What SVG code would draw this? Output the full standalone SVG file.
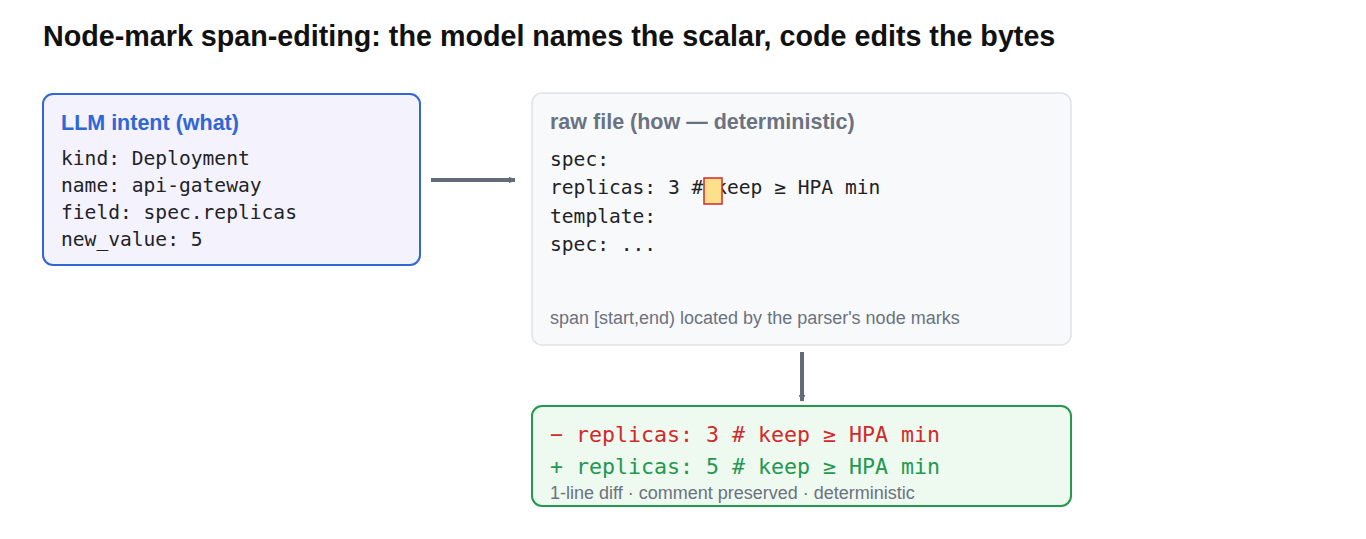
<svg xmlns="http://www.w3.org/2000/svg" width="1366" height="539" viewBox="0 0 1366 539">
<style>
.t{font-family:"Liberation Sans",Arial,sans-serif}
.m{font-family:"DejaVu Sans Mono",monospace;font-size:19.6px;fill:#1f2328}
.h{font-weight:bold;font-size:21.5px}
.s{font-size:18px;fill:#6b7280}
</style>
<defs>
<marker id="a" viewBox="0 0 10 10" refX="9" refY="5" markerWidth="7" markerHeight="7" markerUnits="userSpaceOnUse" orient="auto"><path d="M0,0L10,5L0,10z" fill="#646b78"/></marker>
</defs>
<rect width="1366" height="539" fill="#fff"/>
<text class="t" x="43" y="46" font-size="28.7" font-weight="bold" fill="#111">Node-mark span-editing: the model names the scalar, code edits the bytes</text>
<g id="intent">
<rect x="43" y="94" width="377" height="171" rx="10" fill="#f3f2fd" stroke="#2f66d8" stroke-width="2"/>
<text class="t h" x="61" y="130" fill="#2f66d8">LLM intent (what)</text>
<text class="m" x="61" y="165">kind: Deployment</text>
<text class="m" x="61" y="192">name: api-gateway</text>
<text class="m" x="61" y="219">field: spec.replicas</text>
<text class="m" x="61" y="246">new_value: 5</text>
</g>
<g id="raw">
<rect x="532" y="93" width="539" height="252" rx="10" fill="#f8f9fb" stroke="#dfe2e6" stroke-width="1.5"/>
<text class="t h" x="550" y="129" fill="#6b7280">raw file (how — deterministic)</text>
<text class="m" x="550" y="166">spec:</text>
<text class="m" x="550" y="194">replicas: 3 # keep ≥ HPA min</text>
<rect x="704" y="178" width="18" height="26" fill="#fde18a" stroke="#d12a2a" stroke-width="1.5"/>
<text class="m" x="550" y="223">template:</text>
<text class="m" x="550" y="251">spec: ...</text>
<text class="t s" x="550" y="324">span [start,end) located by the parser's node marks</text>
</g>
<g id="diff">
<rect x="532" y="406" width="539" height="100" rx="10" fill="#eef9f0" stroke="#23984f" stroke-width="2"/>
<text class="m" x="550" y="442" style="fill:#d12a2a;font-size:21.6px">− replicas: 3 # keep ≥ HPA min</text>
<text class="m" x="550" y="474" style="fill:#23984f;font-size:21.6px">+ replicas: 5 # keep ≥ HPA min</text>
<text class="t s" x="550" y="499">1-line diff · comment preserved · deterministic</text>
</g>
<g id="connectors" stroke="#646b78" stroke-width="4" fill="none">
<line x1="431" y1="180" x2="515" y2="180" marker-end="url(#a)"/>
<line x1="802" y1="352" x2="802" y2="401" marker-end="url(#a)"/>
</g>
</svg>
